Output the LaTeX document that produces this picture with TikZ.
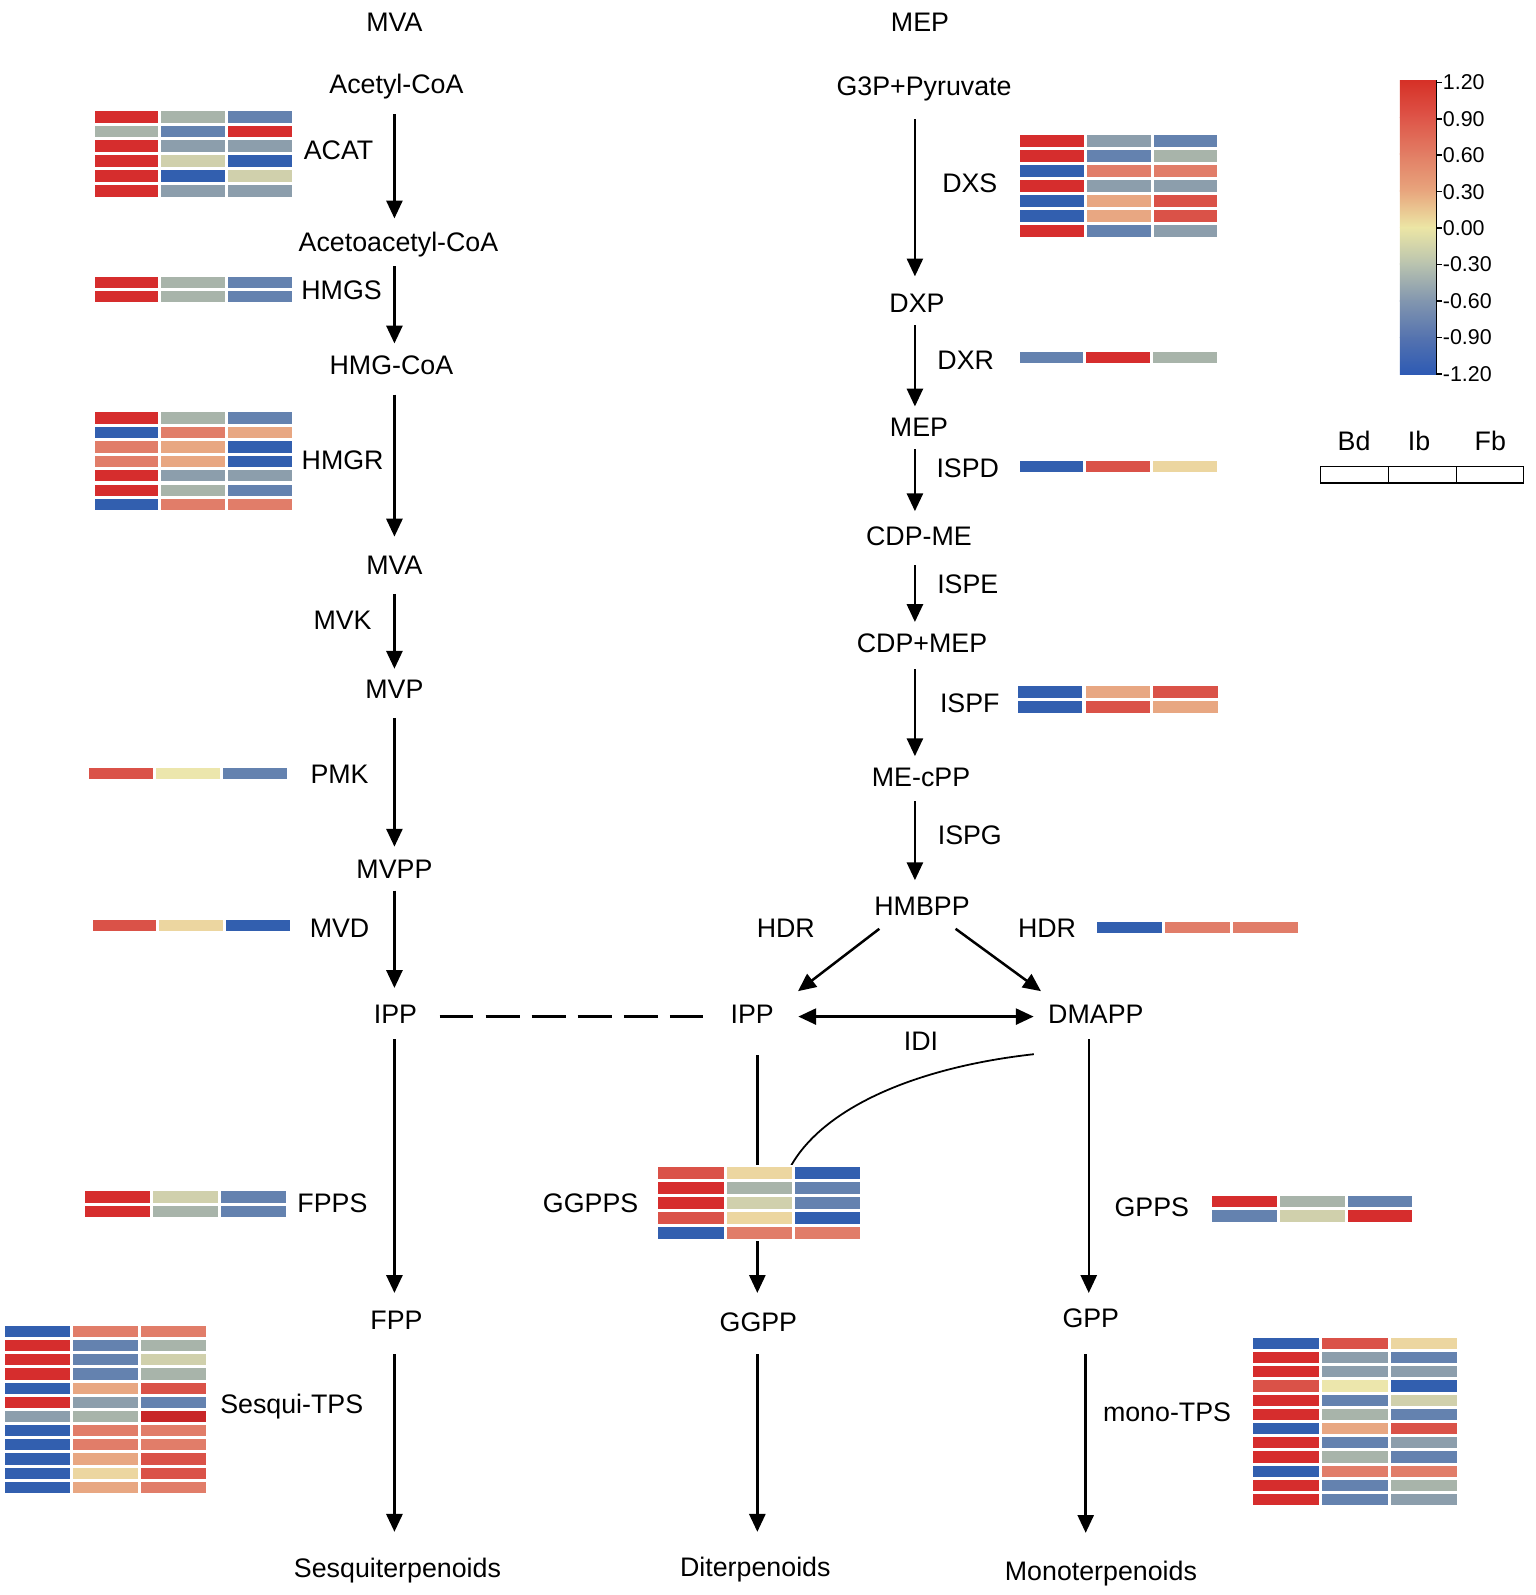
\documentclass[tikz,border=0pt]{standalone}
\usepackage{fontspec}
\setmainfont{Liberation Sans}
\usetikzlibrary{arrows.meta,calc}

\definecolor{hR}{RGB}{214,45,45}
\definecolor{hRd}{RGB}{200,38,40}
\definecolor{hR2}{RGB}{218,82,72}
\definecolor{hS}{RGB}{225,125,105}
\definecolor{hP}{RGB}{232,167,130}
\definecolor{hY}{RGB}{236,214,160}
\definecolor{hYl}{RGB}{236,230,172}
\definecolor{hYg}{RGB}{208,208,172}
\definecolor{hG}{RGB}{168,180,170}
\definecolor{hGb}{RGB}{140,158,172}
\definecolor{hBl}{RGB}{100,130,175}
\definecolor{hB}{RGB}{50,95,175}

\definecolor{cb0}{RGB}{214,48,39}
\definecolor{cb1}{RGB}{222,85,72}
\definecolor{cb2}{RGB}{226,125,100}
\definecolor{cb3}{RGB}{232,165,125}
\definecolor{cb4}{RGB}{236,230,165}
\definecolor{cb5}{RGB}{185,195,175}
\definecolor{cb6}{RGB}{130,150,175}
\definecolor{cb7}{RGB}{85,115,175}
\definecolor{cb8}{RGB}{45,90,180}

% #1 x0, #2 y0 (top), #3 column pitch, #4 row pitch, #5 rows
\newcommand\heatmapdraw[5]{%
  \foreach \ca/\cb/\cc [count=\i from 0] in {#5}{%
    \fill[\ca] ({#1},{#2+\i*#4}) rectangle ++({#3-3},{#4-3});
    \fill[\cb] ({#1+#3},{#2+\i*#4}) rectangle ++({#3-3},{#4-3});
    \fill[\cc] ({#1+2*#3},{#2+\i*#4}) rectangle ++({#3-3},{#4-3});
  }}

\begin{document}
\begin{tikzpicture}[x=0.02cm,y=-0.02cm,
  txt/.style={inner sep=0pt,text height=11pt,text depth=3pt,font=\fontsize{15}{18}\selectfont},
  ticklbl/.style={inner sep=0pt,anchor=west,font=\fontsize{12}{14}\selectfont},
  arr/.style={line width=1.4pt,-{Triangle[width=9pt,length=10pt]}},
  darr/.style={line width=1.4pt,{Triangle[width=9pt,length=10pt]}-{Triangle[width=9pt,length=10pt]}},
  gaps/.style 2 args={shorten <=#1cm,shorten >=#2cm},
  dashline/.style={line width=1.8pt,dash pattern=on 19pt off 6.8pt},
  thinline/.style={line width=1pt}]

\useasboundingbox (0,0) rectangle (1510,1569);

% column coordinates
\coordinate (colL) at (388,0);
\coordinate (colR) at (900,0);
\coordinate (colM) at (745,0);
\coordinate (colD) at (1071,0);
\coordinate (colG) at (1068,0);
\coordinate (ggppstop) at (778,1147);

% ---------- MVA pathway ----------
\node[txt] (mvatop) at (388,24) {MVA};
\node[txt] (acetyl) at (390,85) {Acetyl-CoA};
\node[txt] (acetoacetyl) at (392,240) {Acetoacetyl-CoA};
\node[txt] (hmgcoa) at (385,361) {HMG-CoA};
\node[txt] (mva) at (388,558) {MVA};
\node[txt] (mvp) at (388,680) {MVP};
\node[txt] (mvpp) at (388,857) {MVPP};
\node[txt] (ipp1) at (389,1000) {IPP};
\node[txt] (fpp) at (390,1301) {FPP};
\node[txt] (sesq) at (391,1545) {Sesquiterpenoids};

% ---------- MEP pathway ----------
\node[txt] (meptop) at (905,24) {MEP};
\node[txt] (g3p) at (909,87) {G3P+Pyruvate};
\node[txt] (dxp) at (902,300) {DXP};
\node[txt] (mep) at (904,422) {MEP};
\node[txt] (cdpme) at (904,530) {CDP-ME};
\node[txt] (cdpmep) at (907,635) {CDP+MEP};
\node[txt] (mecpp) at (906,767) {ME-cPP};
\node[txt] (hmbpp) at (907,894) {HMBPP};
\node[txt] (ipp2) at (740,1000) {IPP};
\node[txt] (dmapp) at (1078,1000) {DMAPP};
\node[txt] (ggpp) at (746,1303) {GGPP};
\node[txt] (gpp) at (1073,1299) {GPP};
\node[txt] (dit) at (743,1544) {Diterpenoids};
\node[txt] (mono) at (1083,1548) {Monoterpenoids};

% ---------- enzyme labels ----------
\node[txt] (eACAT) at (333,150) {ACAT};
\node[txt] (eHMGS) at (336,288) {HMGS};
\node[txt] (eHMGR) at (337,455) {HMGR};
\node[txt] (eMVK) at (337,612) {MVK};
\node[txt] (ePMK) at (334,764) {PMK};
\node[txt] (eMVD) at (334,915) {MVD};
\node[txt] (eFPPS) at (327,1186) {FPPS};
\node[txt] (eSTPS) at (287,1383) {Sesqui-TPS};
\node[txt] (eDXS) at (954,182) {DXS};
\node[txt] (eDXR) at (950,356) {DXR};
\node[txt] (eISPD) at (952,463) {ISPD};
\node[txt] (eISPE) at (952,577) {ISPE};
\node[txt] (eISPF) at (954,694) {ISPF};
\node[txt] (eISPG) at (954,824) {ISPG};
\node[txt] (eHDRa) at (773,915) {HDR};
\node[txt] (eHDRb) at (1030,915) {HDR};
\node[txt] (eIDI) at (906,1026) {IDI};
\node[txt] (eGGPPS) at (581,1186) {GGPPS};
\node[txt] (eGPPS) at (1133,1190) {GPPS};
\node[txt] (eMTPS) at (1148,1391) {mono-TPS};

% ---------- arrows, MVA ----------
\draw[arr,gaps={0.29}{0.25}] (acetyl.south -| colL) -- (acetoacetyl.north -| colL);
\draw[arr,gaps={0.19}{0.21}] (acetoacetyl.south -| colL) -- (hmgcoa.north -| colL);
\draw[arr,gaps={0.29}{0.35}] (hmgcoa.south -| colL) -- (mva.north -| colL);
\draw[arr,gaps={0.27}{0.19}] (mva.south -| colL) -- (mvp.north -| colL);
\draw[arr,gaps={0.27}{0.23}] (mvp.south -| colL) -- (mvpp.north -| colL);
\draw[arr,gaps={0.13}{0.31}] (mvpp.south -| colL) -- (ipp1.north -| colL);
\draw[arr,gaps={0.19}{0.33}] (ipp1.south -| colL) -- (fpp.north -| colL);
\draw[arr,gaps={0.37}{0.51}] (fpp.south -| colL) -- (sesq.north -| colL);

% ---------- arrows, MEP ----------
\draw[arr,gaps={0.35}{0.31}] (g3p.south -| colR) -- (dxp.north -| colR);
\draw[arr,gaps={0.15}{0.19}] (dxp.south -| colR) -- (mep.north -| colR);
\draw[arr,gaps={0.15}{0.29}] (mep.south -| colR) -- (cdpme.north -| colR);
\draw[arr,gaps={0.27}{0.21}] (cdpme.south -| colR) -- (cdpmep.north -| colR);
\draw[arr,gaps={0.21}{0.21}] (cdpmep.south -| colR) -- (mecpp.north -| colR);
\draw[arr,gaps={0.17}{0.31}] (mecpp.south -| colR) -- (hmbpp.north -| colR);

\draw[arr] ($(hmbpp.south)+(-42,7)$) -- ($(ipp2.center)+(45,-25)$);
\draw[arr] ($(hmbpp.south)+(33,7)$) -- ($(dmapp.center)+(-54,-25)$);
\draw[darr,gaps={0.475}{0.28}] (ipp2.east) -- (dmapp.west);
\draw[dashline,gaps={0.435}{0.535}] (ipp1.east) -- (ipp2.west);

\draw[arr,gaps={0.51}{0.37}] (ipp2.south -| colM) -- (ggpp.north -| colM);
\draw[arr,gaps={0.33}{0.49}] (ggpp.south -| colM) -- (dit.north -| colM);
\draw[arr,gaps={0.19}{0.29}] (dmapp.south -| colD) -- (gpp.north -| colD);
\draw[arr,gaps={0.41}{0.55}] (gpp.south -| colG) -- (mono.north -| colG);
\draw[thinline] ($(dmapp.center)+(-61,37)$) .. controls (900,1050) and (810,1090) .. (ggppstop);

% ---------- heatmaps ----------
\heatmapdraw{93}{109}{65.6}{14.6}{hR/hG/hBl, hG/hBl/hR, hR/hGb/hGb, hR/hYg/hB, hR/hB/hYg, hR/hGb/hGb}
\heatmapdraw{93}{272}{65.6}{14.2}{hR/hG/hBl, hR/hG/hBl}
\heatmapdraw{93}{405.6}{65.6}{14.2}{hR/hG/hBl, hB/hS/hP, hS/hP/hB, hS/hP/hB, hR/hGb/hGb, hR/hG/hBl, hB/hS/hS}
\heatmapdraw{88}{755}{65.7}{14}{hR2/hYl/hBl}
\heatmapdraw{91}{905}{65.7}{14}{hR2/hY/hB}
\heatmapdraw{83.6}{1171.6}{66.8}{14.4}{hR/hYg/hBl, hR/hG/hBl}
\heatmapdraw{4.9}{1304.3}{66.9}{13.94}{hB/hS/hS, hR/hBl/hG, hR/hBl/hYg, hR/hBl/hG, hB/hP/hR2, hR/hGb/hBl, hGb/hG/hRd, hB/hS/hS, hB/hS/hS, hB/hP/hR2, hB/hY/hR2, hB/hP/hS}
\heatmapdraw{1003.4}{132.8}{65.7}{14.75}{hR/hGb/hBl, hR/hBl/hG, hB/hS/hS, hR/hGb/hGb, hB/hP/hR2, hB/hP/hR2, hR/hBl/hGb}
\heatmapdraw{1003}{346}{65.7}{14}{hBl/hR/hG}
\heatmapdraw{1003}{453}{65.7}{14}{hB/hR2/hY}
\heatmapdraw{1001}{674.5}{66.8}{15}{hB/hP/hR2, hB/hR2/hP}
\heatmapdraw{1079}{907}{66.8}{14}{hB/hS/hS}
\fill[white] (645,1146) rectangle (849,1221);
\heatmapdraw{647.6}{1148.3}{67.2}{14.75}{hR2/hY/hB, hR/hG/hBl, hR/hYg/hBl, hR2/hY/hB, hB/hS/hS}
\heatmapdraw{1192.5}{1176.2}{66.6}{14.4}{hR/hG/hBl, hBl/hYg/hR}
\heatmapdraw{1232.2}{1315.8}{67.9}{14}{hB/hR2/hY, hR/hGb/hBl, hR/hGb/hGb, hR2/hYl/hB, hR/hBl/hYg, hR/hG/hBl, hB/hP/hR2, hR/hBl/hGb, hR/hG/hBl, hB/hS/hS, hR/hBl/hG, hR/hBl/hGb}

% ---------- legend ----------
\foreach \ct/\cbt [count=\k from 0] in {cb0/cb1,cb1/cb2,cb2/cb3,cb3/cb4,cb4/cb5,cb5/cb6,cb6/cb7,cb7/cb8}{%
  \shade[top color=\ct,bottom color=\cbt] (1377,{79+\k*36.1}) rectangle (1413,{79+(\k+1)*36.1+0.6});
}
\draw[line width=0.9pt] (1413,79) -- (1413,368);
\foreach \lab [count=\k from 0] in {1.20,0.90,0.60,0.30,0.00,-0.30,-0.60,-0.90,-1.20}{%
  \draw[line width=0.9pt] (1413,{81+\k*35.85}) -- ++(5,0);
  \node[ticklbl] (tick\k) at (1419,{81+\k*35.85}) {\lab};
}
\node[txt] (lBd) at (1332,436) {Bd};
\node[txt] (lIb) at (1396,436) {Ib};
\node[txt] (lFb) at (1466,436) {Fb};
\draw[line width=0.7pt] (1299,459) rectangle (1499,475);
\draw[line width=0.7pt] (1366,459) -- (1366,475);
\draw[line width=0.7pt] (1433,459) -- (1433,475);

\end{tikzpicture}
\end{document}
